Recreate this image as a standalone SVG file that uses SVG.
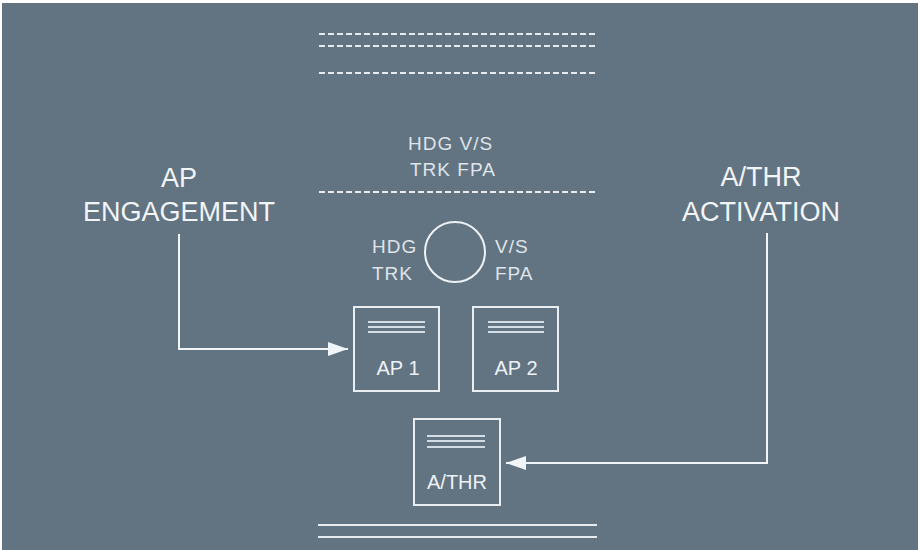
<svg xmlns="http://www.w3.org/2000/svg" width="921" height="550" viewBox="0 0 921 550">
<style>
.bg{fill:#627381}
.dash{stroke:#e6ebef;stroke-width:1.8;stroke-dasharray:6 3;fill:none}
.solid{stroke:#e6ebef;stroke-width:2;fill:none}
.box{stroke:#e8eef2;stroke-width:2;fill:none}
.bar{stroke:#d3dde6;stroke-width:2}
.big{font-family:"Liberation Sans",Arial,sans-serif;font-size:27px;fill:#f2f5f7;text-anchor:middle}
.lbl{font-family:"Liberation Sans",Arial,sans-serif;font-size:20px;fill:#eef2f5;text-anchor:middle}
.mode{font-family:"Liberation Sans",Arial,sans-serif;font-size:19px;fill:#dfe5ea;letter-spacing:1px}
.conn{stroke:#f2f5f7;stroke-width:2;fill:none}
</style>
<defs>
<marker id="arrow" markerWidth="20" markerHeight="14" refX="20" refY="7" orient="auto" markerUnits="userSpaceOnUse" viewBox="0 0 20 14">
<path d="M0,0 L20,7 L0,14 Z" fill="#f2f5f7"/>
</marker>
</defs>
<rect x="0" y="0" width="921" height="550" fill="#ffffff"/>
<rect class="bg" x="2" y="3" width="916" height="547"/>

<g id="display">
<line class="dash" x1="319" y1="34" x2="595" y2="34"/>
<line class="dash" x1="319" y1="46" x2="595" y2="46"/>
<line class="dash" x1="319" y1="73" x2="595" y2="73"/>
<text class="mode" x="408" y="150">HDG V/S</text>
<text class="mode" x="410" y="176">TRK FPA</text>
<line class="dash" x1="319" y1="192" x2="595" y2="192"/>
<line class="solid" x1="318" y1="525" x2="597" y2="525"/>
<line class="solid" x1="318" y1="537" x2="597" y2="537"/>
</g>

<g id="knob">
<circle cx="455" cy="252" r="30" fill="none" stroke="#eef2f5" stroke-width="2"/>
<text class="mode" x="372" y="253">HDG</text>
<text class="mode" x="372" y="280">TRK</text>
<text class="mode" x="495" y="253">V/S</text>
<text class="mode" x="495" y="280">FPA</text>
</g>

<g id="ap-engagement">
<text class="big" x="179" y="187">AP</text>
<text class="big" x="179" y="221">ENGAGEMENT</text>
</g>

<g id="athr-activation">
<text class="big" x="761" y="186">A/THR</text>
<text class="big" x="761" y="221">ACTIVATION</text>
</g>

<g id="ap1">
<rect class="box" x="354" y="307" width="85" height="84"/>
<line class="bar" x1="368" y1="322" x2="425" y2="322"/>
<line class="bar" x1="368" y1="327" x2="425" y2="327"/>
<line class="bar" x1="368" y1="332" x2="425" y2="332"/>
<text class="lbl" x="398" y="375">AP 1</text>
</g>

<g id="ap2">
<rect class="box" x="473" y="307" width="85" height="84"/>
<line class="bar" x1="488" y1="322" x2="544" y2="322"/>
<line class="bar" x1="488" y1="327" x2="544" y2="327"/>
<line class="bar" x1="488" y1="332" x2="544" y2="332"/>
<text class="lbl" x="516" y="375">AP 2</text>
</g>

<g id="athr">
<rect class="box" x="414" y="419" width="86" height="86"/>
<line class="bar" x1="427" y1="436" x2="485" y2="436"/>
<line class="bar" x1="427" y1="441" x2="485" y2="441"/>
<line class="bar" x1="427" y1="447" x2="485" y2="447"/>
<text class="lbl" x="457" y="489">A/THR</text>
</g>

<g id="connectors">
<polyline class="conn" points="179,234 179,349 348,349" marker-end="url(#arrow)"/>
<polyline class="conn" points="767,233 767,463 506,463" marker-end="url(#arrow)"/>
</g>
</svg>
